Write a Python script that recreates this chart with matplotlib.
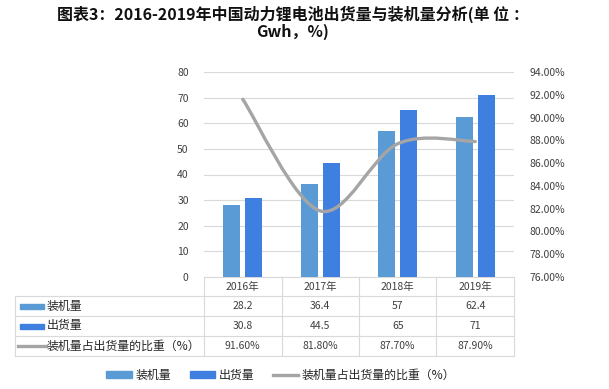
import matplotlib

matplotlib.use("Agg")
import matplotlib.pyplot as plt
import matplotlib.transforms as mtransforms
from matplotlib.lines import Line2D
from matplotlib.patches import Patch, PathPatch, Rectangle
from matplotlib.path import Path
from matplotlib.ticker import FuncFormatter, MultipleLocator

plt.rcParams["font.family"] = ["Noto Sans CJK SC", "DejaVu Sans"]

# 数据
years = ["2016年", "2017年", "2018年", "2019年"]
installed = [28.2, 36.4, 57, 62.4]        # 装机量 Gwh
shipped = [30.8, 44.5, 65, 71]            # 出货量 Gwh
ratio = [91.6, 81.8, 87.7, 87.9]          # 装机量占出货量的比重 %
series_names = ["装机量", "出货量", "装机量占出货量的比重（%）"]
title = "图表3：2016-2019年中国动力锂电池出货量与装机量分析(单 位 ：\nGwh，%)"

c_inst = "#5B9BD5"
c_ship = "#3F7FE0"
c_line = "#A5A5A5"
c_grid = "#D9D9D9"
fs = 7.5

W, H = 609, 389
fig = plt.figure(figsize=(W / 100, H / 100), dpi=100)


def fx(px):
    return px / W


def fy(py):
    return 1 - py / H


left, right, top, bottom = 204, 514, 72, 277
ax = fig.add_axes([fx(left), fy(bottom), fx(right - left), (bottom - top) / H])
x = list(range(len(years)))
bw, off = 0.225, 0.142
ax.bar([i - off for i in x], installed, bw, color=c_inst, zorder=3)
ax.bar([i + off for i in x], shipped, bw, color=c_ship, zorder=3)
ax.set_xlim(-0.5, 3.5)
ax.set_ylim(0, 80)
ax.yaxis.set_major_locator(MultipleLocator(10))
ax.grid(axis="y", color=c_grid, lw=0.8, zorder=0)
ax.set_xticks([])
for s in ["left", "right", "top"]:
    ax.spines[s].set_visible(False)
ax.spines["bottom"].set_color(c_grid)
ax.tick_params(axis="y", length=0, labelsize=fs, labelcolor="#404040", pad=11)

ax2 = ax.twinx()
ax2.set_ylim(76, 94)
ax2.yaxis.set_major_locator(MultipleLocator(2))
ax2.yaxis.set_major_formatter(FuncFormatter(lambda v, _: f"{v:.2f}%"))
ax2.tick_params(axis="y", length=0, labelsize=fs, labelcolor="#404040", pad=11)
for s in ["left", "right", "top", "bottom"]:
    ax2.spines[s].set_visible(False)

# 平滑曲线（Catmull-Rom -> Bezier）
pts = list(zip(x, ratio))
verts, codes = [pts[0]], [Path.MOVETO]
n = len(pts)
for i in range(n - 1):
    p0 = pts[max(i - 1, 0)]
    p1 = pts[i]
    p2 = pts[i + 1]
    p3 = pts[min(i + 2, n - 1)]
    c1 = (p1[0] + (p2[0] - p0[0]) / 6, p1[1] + (p2[1] - p0[1]) / 6)
    c2 = (p2[0] - (p3[0] - p1[0]) / 6, p2[1] - (p3[1] - p1[1]) / 6)
    verts += [c1, c2, p2]
    codes += [Path.CURVE4] * 3
ax2.add_patch(PathPatch(Path(verts, codes), fill=False, ec=c_line, lw=2.4,
                        capstyle="round", zorder=4))

# 数据表
bt = mtransforms.blended_transform_factory(ax.transData, fig.transFigure)
rows_y = [277, 296, 316, 336, 356]
for yy in rows_y[1:]:
    fig.add_artist(Line2D([fx(15), fx(right)], [fy(yy), fy(yy)], color=c_grid, lw=0.8))
fig.add_artist(Line2D([fx(15), fx(15)], [fy(296), fy(356)], color=c_grid, lw=0.8))
for b in [-0.5, 0.5, 1.5, 2.5, 3.5]:
    fig.add_artist(Line2D([b, b], [fy(277), fy(356)], color=c_grid, lw=0.8, transform=bt))

row_vals = [installed, shipped, [f"{r:.2f}%" for r in ratio]]
for i, yr in enumerate(years):
    fig.text(i, fy(287), yr, transform=bt, ha="center", va="center", fontsize=fs, color="#404040")
    for r, vals in enumerate(row_vals):
        yc = (rows_y[r + 1] + rows_y[r + 2]) / 2
        fig.text(i, fy(yc), str(vals[i]), transform=bt, ha="center", va="center",
                 fontsize=fs, color="#404040")

for r, name in enumerate(series_names):
    yc = (rows_y[r + 1] + rows_y[r + 2]) / 2
    if r < 2:
        fig.add_artist(Rectangle((fx(20), fy(yc + 2.5)), fx(24), 5 / H,
                                 color=[c_inst, c_ship][r]))
    else:
        fig.add_artist(Line2D([fx(18), fx(46)], [fy(yc), fy(yc)], color=c_line, lw=2.4))
    fig.text(fx(47), fy(yc), name, ha="left", va="center", fontsize=8.6, color="#262626")

# 图例
handles = [Patch(color=c_inst), Patch(color=c_ship), Line2D([], [], color=c_line, lw=2.4)]
fig.legend(handles, series_names, loc="center", bbox_to_anchor=(fx(281), fy(375)),
           ncol=3, frameon=False, fontsize=8.6, handlelength=2.1, handleheight=0.5,
           handletextpad=0.3, columnspacing=1.6, labelcolor="#262626")

fig.text(fx(293), fy(23), title, ha="center", va="center", fontsize=11.5,
         fontweight="bold", linespacing=1.1, color="#111111")

fig.savefig("out.png", dpi=100)
